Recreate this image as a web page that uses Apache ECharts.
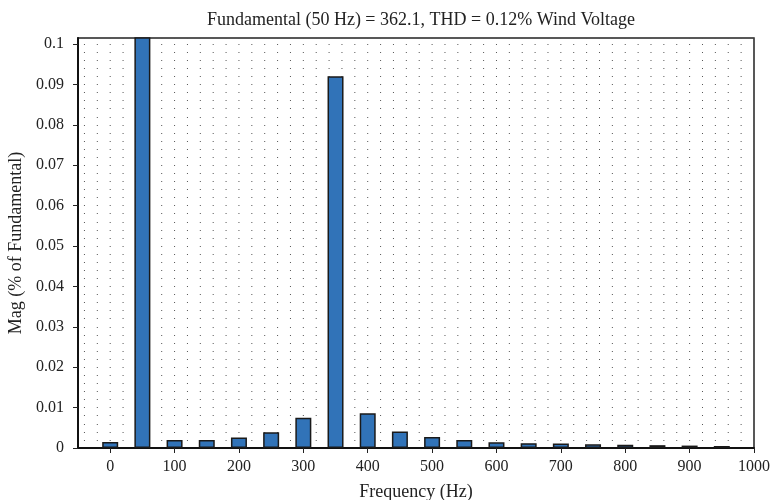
<!DOCTYPE html>
<html>
<head>
<meta charset="utf-8">
<script src="https://cdn.jsdelivr.net/npm/echarts@6/dist/echarts.min.js"></script>
<style>html,body{margin:0;padding:0;background:#fff;}#c{width:776px;height:500px;}</style>
</head>
<body>
<div id="c"></div>
<script>
var titleText = 'Fundamental (50 Hz) = 362.1, THD = 0.12% Wind Voltage';
var freqs = [0, 50, 100, 150, 200, 250, 300, 350, 400, 450, 500, 550, 600, 650, 700, 750, 800, 850, 900, 950];
var mags = [0.0015, 100, 0.002, 0.002, 0.0026, 0.0039, 0.0075, 0.092, 0.0086, 0.0041, 0.0027, 0.002, 0.0014, 0.0012, 0.0011, 0.0009, 0.0008, 0.0007, 0.0006, 0.0005];
var xLabel = 'Frequency (Hz)';
var yLabel = 'Mag (% of Fundamental)';

var data = freqs.map(function (f, i) { return [f, mags[i]]; });
var font = 'Liberation Serif';
var gridLeft = 78, gridRight = 22;
var plotW = 776 - gridLeft - gridRight;
var xMin = -50, xMax = 1000;
var pxPerHz = plotW / (xMax - xMin);
var dotStep = 20 * pxPerHz;
var firstDot = (Math.ceil(xMin / 20) * 20 - xMin) * pxPerHz;
var dotOffset = ((dotStep - (firstDot - 0.5)) % dotStep + dotStep) % dotStep;
var dotStyle = {color: '#555', type: [1, dotStep - 1], dashOffset: dotOffset, width: 1};

var chart = echarts.init(document.getElementById('c'), null, {renderer: 'canvas'});
chart.setOption({
  animation: false,
  backgroundColor: '#fff',
  title: {
    text: titleText, left: 416, top: 6, textAlign: 'center',
    textStyle: {fontFamily: font, fontSize: 18, fontWeight: 'normal', color: '#222'}
  },
  grid: {left: gridLeft, right: gridRight, top: 38, bottom: 52, containLabel: false, outerBoundsMode: 'none',
    show: true, borderColor: '#222', borderWidth: 1.5, backgroundColor: 'transparent'},
  xAxis: {
    type: 'value', min: xMin, max: xMax, splitNumber: 10,
    name: xLabel, nameLocation: 'middle', nameGap: 35,
    nameTextStyle: {fontFamily: font, fontSize: 18, color: '#222'},
    axisLine: {show: true, onZero: false, lineStyle: {color: '#111', width: 2}},
    axisTick: {show: true, inside: false, length: 5, lineStyle: {color: '#222'}},
    axisLabel: {showMinLabel: false, fontFamily: font, fontSize: 16, color: '#222', margin: 11,
      formatter: function (v) { return String(v); }},
    splitLine: {show: false}
  },
  yAxis: [{
    type: 'value', min: 0, max: 0.1015, interval: 0.002,
    axisLine: {show: false}, axisTick: {show: false}, axisLabel: {show: false},
    splitLine: {show: true, lineStyle: dotStyle}
  }, {
    type: 'value', min: 0, max: 0.1015, interval: 0.01, position: 'left',
    name: yLabel, nameLocation: 'middle', nameGap: 44,
    nameTextStyle: {fontFamily: font, fontSize: 18, color: '#222'},
    axisLine: {show: true, onZero: false, lineStyle: {color: '#111', width: 2}},
    axisTick: {show: true, inside: false, length: 5, lineStyle: {color: '#222'}},
    axisLabel: {showMaxLabel: false, fontFamily: font, fontSize: 16, color: '#222', margin: 14,
      formatter: function (v) { return String(Math.round(v * 1000) / 1000); }},
    splitLine: {show: false}
  }],
  series: [{
    type: 'bar', data: data, barWidth: 16, clip: true, yAxisIndex: 1,
    itemStyle: {color: '#3173b8', borderColor: '#1a1a1a', borderWidth: 1.5}
  }]
});
</script>
</body>
</html>
